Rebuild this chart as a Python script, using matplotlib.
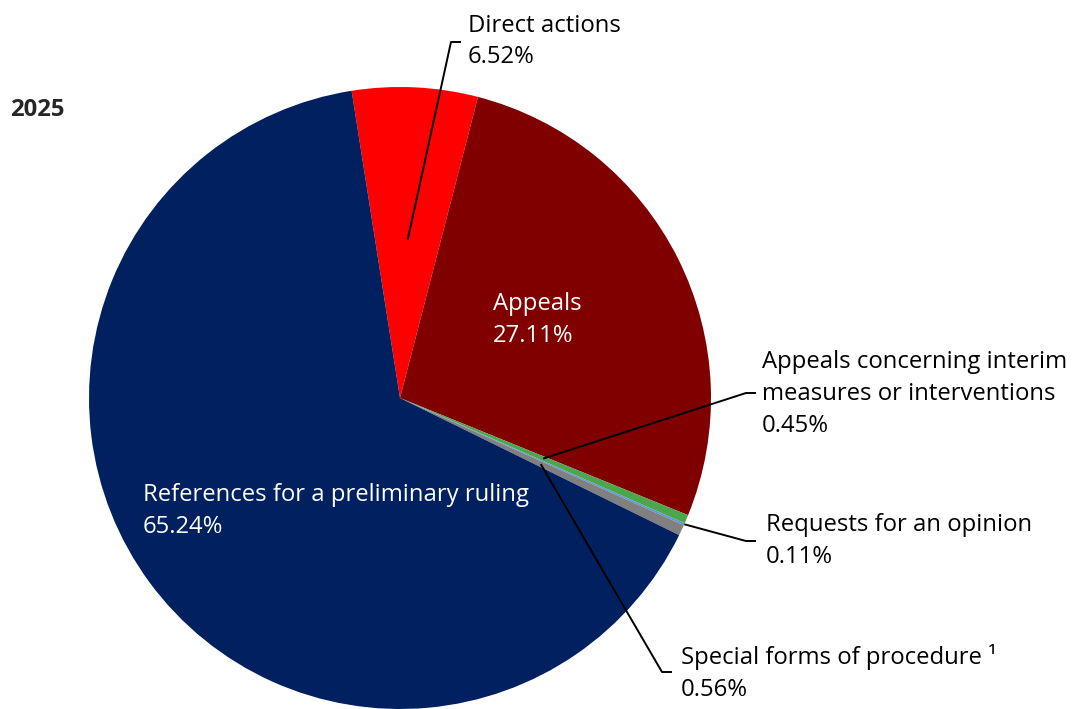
import numpy as np
import matplotlib
matplotlib.use('Agg')
import matplotlib.pyplot as plt

plt.rcParams['font.family'] = ['Open Sans', 'DejaVu Sans']

# Share of new cases by type of procedure, 2025
labels = ['Direct actions', 'Appeals',
          'Appeals concerning interim\nmeasures or interventions',
          'Requests for an opinion', 'Special forms of procedure \u00b9',
          'References for a preliminary ruling']
shares = [6.52, 27.11, 0.45, 0.11, 0.56, 65.24]
colors = ['#FF0000', '#800000', '#4CA64C', '#5B9BD5', '#808080', '#002060']

W, H = 1073, 709
fig = plt.figure(figsize=(W / 100, H / 100), dpi=100)
ax = fig.add_axes([0, 0, 1, 1])

cx, cy, R = 400, H - 398, 311
start = 98.95
wedges, _ = ax.pie(shares, colors=colors, startangle=start, counterclock=False,
                   center=(cx, cy), radius=R, frame=True,
                   wedgeprops=dict(linewidth=0))
ax.set_xlim(0, W)
ax.set_ylim(0, H)
ax.set_aspect('equal')
ax.axis('off')

def mid_point(i, frac):
    w = wedges[i]
    a = np.deg2rad((w.theta1 + w.theta2) / 2)
    return cx + frac * R * np.cos(a), cy + frac * R * np.sin(a)

fs = 17.2
ls = 1.42
# (slice, anchor radius frac, elbow px, end px, text x, text center y px)
callouts = [
    (0, 0.51, (451, 42), (461, 42), 468, 41.5),
    (2, 0.50, (746, 393), (756, 393), 762, 394),
    (3, 1.00, (746, 541), (756, 541), 766, 541),
    (4, 0.50, (662, 672), (672, 672), 681, 673),
]
for i, frac, elbow, end, tx, ty in callouts:
    x0, y0 = mid_point(i, frac)
    ax.plot([x0, elbow[0], end[0]], [y0, H - elbow[1], H - end[1]],
            color='black', lw=1.4, solid_capstyle='butt')
    ax.text(tx, H - ty, f'{labels[i]}\n{shares[i]:.2f}%', fontsize=fs,
            ha='left', va='center', color='black', linespacing=ls)

# labels inside the pie
ax.text(493, H - 320, f'{labels[1]}\n{shares[1]:.2f}%', fontsize=fs,
        ha='left', va='center', color='white', linespacing=ls)
ax.text(143, H - 511, f'{labels[5]}\n{shares[5]:.2f}%', fontsize=fs,
        ha='left', va='center', color='white', linespacing=ls)

ax.text(10, H - 110, '2025', fontsize=fs, fontweight='bold',
        ha='left', va='center', color='#262626')

fig.savefig('out.png', dpi=100, facecolor='white')
